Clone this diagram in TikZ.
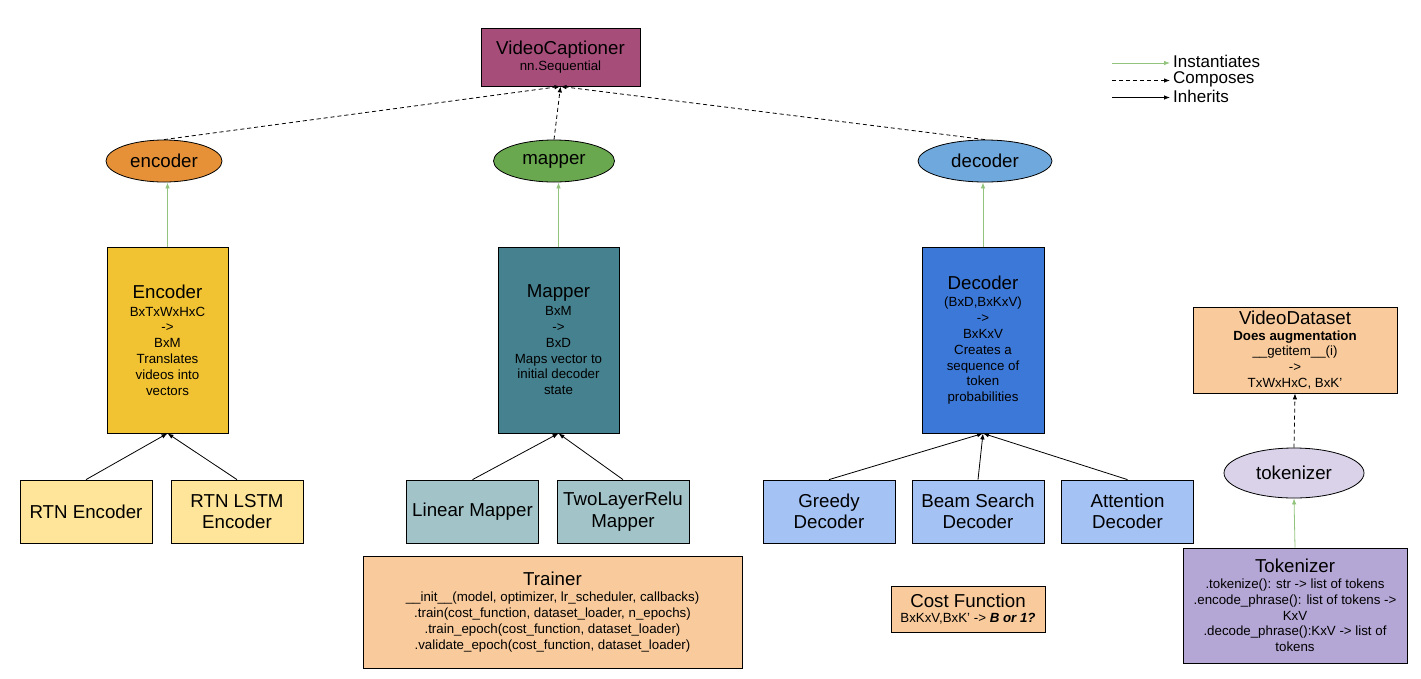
\documentclass[tikz,border=0pt]{standalone}
\usepackage{fontspec}
\setmainfont{Liberation Sans}
\usetikzlibrary{arrows.meta,shapes.geometric}

\definecolor{capcol}{HTML}{A64D79}
\definecolor{encovl}{HTML}{E69138}
\definecolor{mapovl}{HTML}{6AA84F}
\definecolor{decovl}{HTML}{6FA8DC}
\definecolor{enccol}{HTML}{F1C232}
\definecolor{mapcol}{HTML}{45818E}
\definecolor{deccol}{HTML}{3C78D8}
\definecolor{enckid}{HTML}{FFE599}
\definecolor{mapkid}{HTML}{A2C4C9}
\definecolor{deckid}{HTML}{A4C2F4}
\definecolor{peach}{HTML}{F9CB9C}
\definecolor{tokovl}{HTML}{D9D2E9}
\definecolor{tokcol}{HTML}{B4A7D6}
\definecolor{instcol}{HTML}{93C47D}

\newcommand{\hdfont}{\fontsize{18.7}{21.5}\selectfont}
\newcommand{\bdfont}{\fontsize{13.3}{15.8}\selectfont}
\newcommand{\lgfont}{\fontsize{17}{18}\selectfont}

\begin{document}
\begin{tikzpicture}[x=1pt, y=-1pt,
  box/.style={draw, line width=0.8pt, rectangle, inner sep=1pt, align=center, font=\bdfont},
  kid/.style={box, font=\hdfont, minimum width=132pt, minimum height=63pt},
  big/.style={box, minimum width=121pt, minimum height=186pt},
  oval/.style={draw, line width=0.8pt, ellipse, inner sep=0pt, minimum height=42pt, font=\hdfont},
  inst/.style={draw=instcol, line width=0.8pt, -{Latex[length=6pt,width=4.5pt]}},
  comp/.style={line width=0.8pt, dash pattern=on 4pt off 3pt, -{Latex[length=6pt,width=4.5pt]}},
  inh/.style={line width=0.8pt, -{Latex[length=6pt,width=4.5pt]}}]

\useasboundingbox (0,0) rectangle (1421,678);

% top
\node [box, fill=capcol, minimum width=159pt, minimum height=58pt] (cap) at (560.5,57) {{\hdfont VideoCaptioner}\\nn.Sequential};

\node [oval, fill=encovl, minimum width=116pt] (encE) at (164,161) {encoder};
\node [oval, fill=mapovl, minimum width=121pt] (mapE) at (554,161) {mapper};
\node [oval, fill=decovl, minimum width=134pt] (decE) at (985,161) {decoder};

% main classes
\node [big, fill=enccol] (enc) at (167.5,340) {{\hdfont Encoder}\\[2pt]BxTxWxHxC\\->\\BxM\\Translates\\videos into\\vectors};
\node [big, fill=mapcol] (map) at (558.5,340) {{\hdfont Mapper}\\[2pt]BxM\\->\\BxD\\Maps vector to\\initial decoder\\state};
\node [big, fill=deccol, minimum width=122pt] (dec) at (983,340) {{\hdfont Decoder}\\[2pt](BxD,BxKxV)\\->\\BxKxV\\Creates a\\sequence of\\token\\probabilities};

% subclasses
\node [kid, fill=enckid] (rtnE) at (86,511.5) {RTN Encoder};
\node [kid, fill=enckid] (rtnL) at (237,511.5) {RTN LSTM\\Encoder};
\node [kid, fill=mapkid] (lin) at (472.5,511.5) {Linear Mapper};
\node [kid, fill=mapkid] (two) at (623,511.5) {TwoLayerRelu\\Mapper};
\node [kid, fill=deckid] (gre) at (829,511.5) {Greedy\\Decoder};
\node [kid, fill=deckid] (beam) at (978,511.5) {Beam Search\\Decoder};
\node [kid, fill=deckid] (att) at (1127.5,511.5) {Attention\\Decoder};

% training side
\node [box, fill=peach, minimum width=379pt, minimum height=112pt] (trn) at (552.5,612) {{\hdfont Trainer}\\\_\_init\_\_(model, optimizer, lr\_scheduler, callbacks)\\.train(cost\_function, dataset\_loader, n\_epochs)\\.train\_epoch(cost\_function, dataset\_loader)\\.validate\_epoch(cost\_function, dataset\_loader)};
\node [box, fill=peach, minimum width=154pt, minimum height=46pt] (cost) at (968,609) {{\hdfont Cost Function}\\BxKxV,BxK' -> \textbf{\textit{B or 1?}}};

% data side
\node [box, fill=peach, minimum width=204pt, minimum height=86pt] (vds) at (1295,350) {{\hdfont VideoDataset}\\\textbf{Does augmentation}\\\_\_getitem\_\_(i)\\->\\TxWxHxC, BxK'};
\node [oval, fill=tokovl, minimum width=140pt, minimum height=50pt] (tokE) at (1294,473) {tokenizer};
\node [box, fill=tokcol, minimum width=224pt, minimum height=115pt] (tok) at (1295,605.5) {{\hdfont Tokenizer}\\.tokenize(): str -> list of tokens\\.encode\_phrase(): list of tokens ->\\KxV\\.decode\_phrase():KxV -> list of\\tokens};

% legend
\coordinate (l1) at (1112,63);
\coordinate (l2) at (1112,80.5);
\coordinate (l3) at (1112,97.5);
\node [anchor=west, inner sep=3pt, font=\lgfont] (t1) at (1170,61.5) {Instantiates};
\node [anchor=west, inner sep=3pt, font=\lgfont] (t2) at (1170,79) {Composes};
\node [anchor=west, inner sep=3pt, font=\lgfont] (t3) at (1170,96) {Inherits};
\draw [inst] (l1) -- (l1 -| t1.west);
\draw [comp] (l2) -- (l2 -| t2.west);
\draw [inh] (l3) -- (l3 -| t3.west);

% composes
\draw [comp] (encE.north) -- (cap.south); %encoder-cap
\draw [comp] (mapE.north) -- (cap.south); %mapper-cap
\draw [comp] (decE.north) -- (cap.south); %decoder-cap
\draw [comp] (tokE.north) -- (vds.south); %tokenizer-dataset

% instantiates
\draw [inst] (enc.north) -- (enc.north |- encE.south);
\draw [inst] (map.north) -- (map.north |- mapE.south);
\draw [inst] (dec.north) -- (dec.north |- decE.south);
\draw [inst] (tok.north) -- (tokE.south);

% inherits
\draw [inh] (rtnE.north) -- (enc.south);
\draw [inh] (rtnL.north) -- (enc.south);
\draw [inh] (lin.north) -- (map.south);
\draw [inh] (two.north) -- (map.south);
\draw [inh] (gre.north) -- (dec.south);
\draw [inh] (beam.north) -- (dec.south);
\draw [inh] (att.north) -- (dec.south);

\end{tikzpicture}
\end{document}
